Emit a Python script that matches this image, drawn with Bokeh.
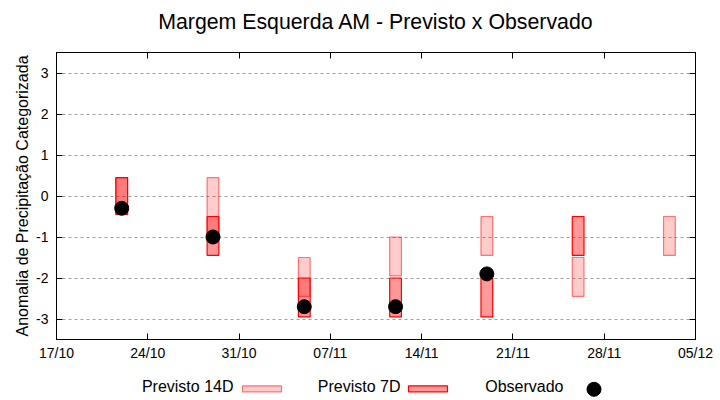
import numpy as np
import pandas as pd
from bokeh.plotting import figure
from bokeh.layouts import column
from bokeh.models import (DatetimeAxis, LinearAxis, FixedTicker, DatetimeTickFormatter,
                          Range1d, ColumnDataSource)
from bokeh.embed import file_html
from bokeh.resources import INLINE

# ---- data ----
title_text = "Margem Esquerda AM - Previsto x Observado"
tick_dates = ["2023-10-17", "2023-10-24", "2023-10-31", "2023-11-07",
              "2023-11-14", "2023-11-21", "2023-11-28", "2023-12-05"]

dates_14d = ["2023-10-22", "2023-10-29", "2023-11-05", "2023-11-12",
             "2023-11-19", "2023-11-26", "2023-12-03"]
top_14d = [0.45, 0.45, -1.5, -1.0, -0.5, -1.5, -0.5]
bot_14d = [-0.45, -1.0, -2.45, -1.95, -1.45, -2.45, -1.45]

dates_7d = ["2023-10-22", "2023-10-29", "2023-11-05", "2023-11-12",
            "2023-11-19", "2023-11-26"]
top_7d = [0.45, -0.5, -2.0, -2.0, -2.0, -0.5]
bot_7d = [-0.45, -1.45, -2.95, -2.95, -2.95, -1.45]

dates_obs = ["2023-10-22", "2023-10-29", "2023-11-05", "2023-11-12", "2023-11-19"]
obs = [-0.3, -1.0, -2.7, -2.7, -1.9]

y_ticks = [-3, -2, -1, 0, 1, 2, 3]
y_tick_labels = ["-3", "-2", "-1", "0", "1", "2", "3"]

legend_labels = ["Previsto 14D", "Previsto 7D", "Observado"]

# ---- build ----
to_dt = lambda l: pd.to_datetime(l)
ticks_ms = [t.value / 1e6 for t in to_dt(tick_dates)]
DAY = 86400000.0
bar_w = 0.9 * DAY

FONT = "Liberation Sans"
FL, FW, FR = 56, 639, 25     # frame left border, frame width, right border

S14 = dict(fill_color="red", fill_alpha=0.2, line_color="red", line_alpha=0.5, line_width=1.2)
S7 = dict(fill_color="red", fill_alpha=0.4, line_color="red", line_width=1.2)
SOBS = dict(size=14, color="black")

p = figure(frame_width=FW, frame_height=287, x_axis_type="datetime",
           output_backend="svg", toolbar_location=None,
           min_border_left=FL, min_border_right=FR, min_border_top=52, min_border_bottom=26)
p.x_range = Range1d(ticks_ms[0], ticks_ms[-1])
p.y_range = Range1d(-3.5, 3.5)

src14 = ColumnDataSource(dict(x=to_dt(dates_14d), top=top_14d, bottom=bot_14d))
src7 = ColumnDataSource(dict(x=to_dt(dates_7d), top=top_7d, bottom=bot_7d))
srco = ColumnDataSource(dict(x=to_dt(dates_obs), y=obs))

p.vbar(x="x", width=bar_w, top="top", bottom="bottom", source=src14, **S14)
p.vbar(x="x", width=bar_w, top="top", bottom="bottom", source=src7, **S7)
p.scatter(x="x", y="y", source=srco, **SOBS)

xt = FixedTicker(ticks=ticks_ms)
yt = FixedTicker(ticks=y_ticks)

for ax in p.xaxis:
    ax.ticker = xt
    ax.formatter = DatetimeTickFormatter(days="%d/%m", months="%d/%m")
for ax in p.yaxis:
    ax.ticker = yt
    ax.major_label_overrides = dict(zip(y_ticks, y_tick_labels))

for ax in list(p.xaxis) + list(p.yaxis):
    ax.major_tick_in = 6
    ax.major_tick_out = 0
    ax.minor_tick_line_color = None
    ax.axis_line_color = "black"
    ax.major_tick_line_color = "black"
    ax.major_label_text_font = FONT
    ax.major_label_text_font_size = "14px"
    ax.major_label_text_color = "black"

p.yaxis.axis_label = "Anomalia de Precipitação Categorizada"
p.yaxis.axis_label_text_font = FONT
p.yaxis.axis_label_text_font_size = "16px"
p.yaxis.axis_label_text_font_style = "normal"
p.yaxis.axis_label_text_color = "black"
p.yaxis.axis_label_standoff = 2
p.yaxis.major_label_standoff = 8
p.xaxis.major_label_standoff = 5

# mirrored ticks on top (carries the title as its label) and on the right
top_ax = DatetimeAxis(ticker=xt, major_tick_in=6, major_tick_out=0,
                      major_label_text_font_size="1px", major_label_text_color=None,
                      major_label_standoff=0,
                      minor_tick_line_color=None, axis_line_color="black",
                      axis_label=title_text, axis_label_text_font=FONT,
                      axis_label_text_font_size="21.3px", axis_label_text_font_style="normal",
                      axis_label_text_color="black", axis_label_standoff=19)
right_ax = LinearAxis(ticker=yt, major_tick_in=6, major_tick_out=0,
                      major_label_text_font_size="1px", major_label_text_color=None,
                      major_label_standoff=0,
                      minor_tick_line_color=None, axis_line_color="black")
p.add_layout(top_ax, "above")
p.add_layout(right_ax, "right")

p.xgrid.grid_line_color = None
p.ygrid.grid_line_color = "#a0a0a0"
p.ygrid.grid_line_dash = "3 3"
p.outline_line_color = "black"
p.outline_line_alpha = 1

# ---- legend strip (label to the left of each key, as in the reference) ----
LH = 35
leg = figure(width=FL + FW + FR, height=LH, x_range=Range1d(FL, FL + FW), y_range=Range1d(0, LH),
             output_backend="svg", toolbar_location=None, min_border=0,
             min_border_left=FL, min_border_right=FR,
             x_axis_location=None, y_axis_location=None)
leg.outline_line_color = None
leg.grid.visible = False

label_right = [233, 400, 563]      # screen px: right edge of each label
key_x = [261.5, 427.5, 593.5]      # screen px: centre of each key
key_y = 11.7
leg.text(x=label_right, y=[14.3, 14.3, 14.3], text=legend_labels, text_align="right",
         text_baseline="middle", text_font_size="16px", text_color="black",
         text_font={"value": FONT})
leg.rect(x=[key_x[0]], y=[key_y], width=39, height=6, **S14)
leg.rect(x=[key_x[1]], y=[key_y], width=39, height=6, **S7)
leg.scatter(x=[key_x[2]], y=[key_y - 0.5], **SOBS)

layout = column(p, leg, spacing=0)
open("out.html", "w").write(file_html(layout, INLINE))
